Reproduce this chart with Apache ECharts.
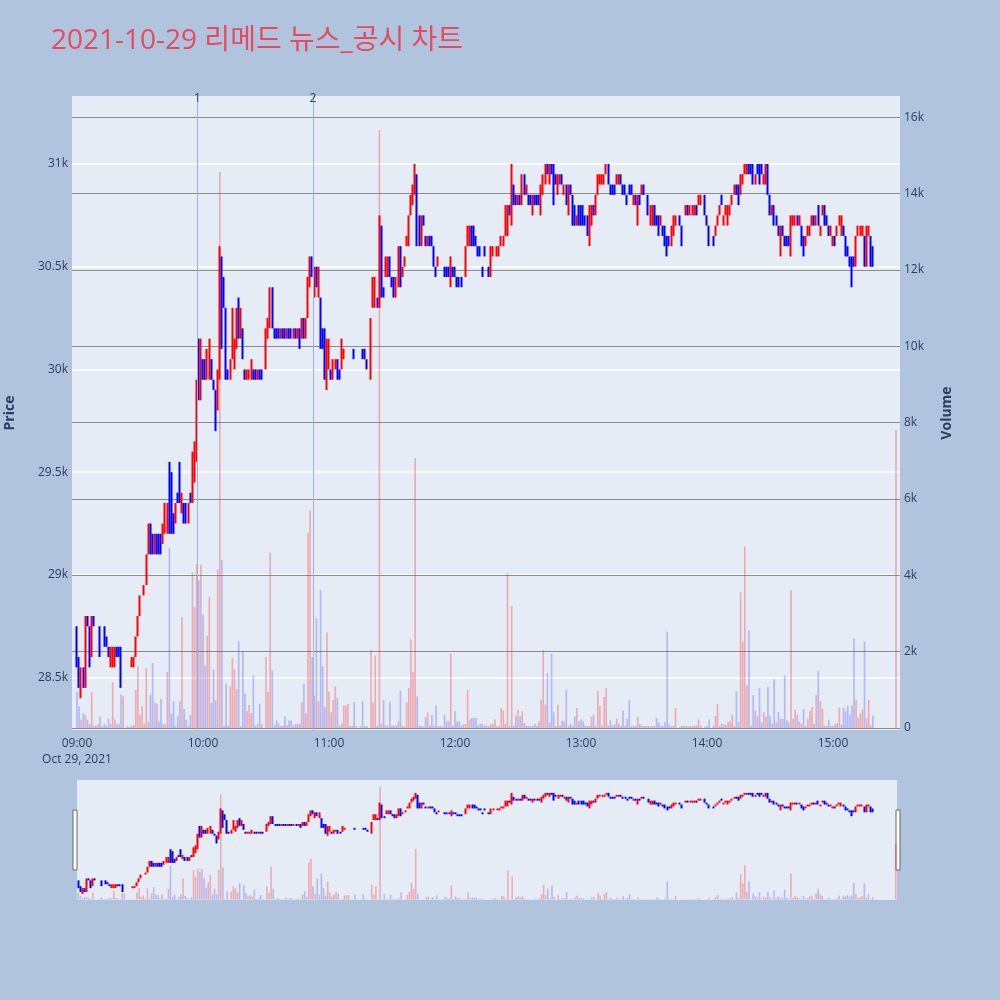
<!DOCTYPE html>
<html><head><meta charset="utf-8">
<script src="https://cdn.jsdelivr.net/npm/echarts@6/dist/echarts.min.js"></script>
<style>html,body{margin:0;padding:0;background:#B0C4DE;}#c{width:1000px;height:1000px;}</style>
</head><body><div id="c"></div>
<script>
// rows: [minute after 09:00, open, close, low, high, volume]
const session0900 = [
[0,28750,28600,28550,28750,960],[1,28600,28450,28450,28600,570],[2,28450,28550,28400,28550,220],[3,28550,28450,28450,28550,390],[4,28450,28800,28450,28800,350],[5,28800,28750,28750,28800,220],[6,28750,28550,28550,28750,100],[7,28600,28800,28600,28800,935],[8,28800,28750,28750,28800,60],[9,28750,28750,28750,28750,60],
[10,28750,28750,28750,28750,90],[11,28750,28600,28600,28750,300],[12,28750,28750,28750,28750,50],[13,28750,28650,28650,28750,110],[14,28700,28650,28650,28700,60],[15,28650,28600,28600,28650,240],[16,28550,28650,28550,28650,110],[17,28600,28650,28550,28650,1200],[18,28550,28650,28550,28650,220],[19,28650,28600,28600,28650,110],
[20,28650,28600,28600,28650,100],[21,28650,28450,28450,28650,870],[22,28600,28600,28600,28600,830],[24,28500,28500,28500,28500,50],[25,28500,28500,28500,28500,30],[26,28550,28600,28550,28600,60],[27,28550,28600,28550,28600,80],[28,28600,28700,28600,28700,1000],[29,28700,28800,28700,28800,1620],
[30,28800,28900,28800,28900,350],[31,28900,28900,28900,28900,570],[32,28900,28950,28900,28950,110],[33,28950,29100,28950,29100,1570],[34,29100,29250,29100,29250,150],[35,29200,29100,29100,29250,870],[36,29200,29100,29100,29200,1700],[37,29100,29200,29100,29200,670],[38,29200,29100,29100,29200,640],[39,29200,29100,29100,29200,175],
[40,29200,29100,29100,29200,760],[41,29150,29250,29150,29250,110],[42,29200,29350,29200,29350,90],[43,29250,29350,29200,29350,1470],[44,29550,29200,29200,29550,4720],[45,29500,29200,29200,29500,375],[46,29300,29250,29200,29300,700],[47,29250,29350,29250,29350,60],[48,29400,29350,29350,29400,320],[49,29400,29350,29350,29550,700],
[50,29300,29400,29300,29400,2910],[51,29350,29250,29250,29350,500],[52,29300,29250,29250,29350,220],[53,29250,29350,29250,29350,60],[54,29400,29350,29350,29400,350],[55,29350,29600,29350,29600,4080],[56,29500,29650,29450,29650,3170],[57,29550,29950,29550,29950,4300],[58,30050,29850,29850,30150,3870],[59,29850,30150,29850,30150,4280],
[60,30050,29950,29950,30050,2970],[61,30050,29950,29950,30050,1630],[62,29950,30100,29950,30100,2420],[63,29950,30150,29950,30150,3430],[64,30050,29950,29950,30050,655],[65,29950,29900,29900,29950,1530],[66,29900,29700,29700,29900,725],[67,29800,30000,29800,30000,4150],[68,29950,30500,29950,30600,14570],[69,30500,30100,30100,30550,4400]
];
const session1010 = [
[70,30450,30300,30300,30450,50],[71,30300,29950,29950,30300,1160],[72,30000,29950,29950,30000,60],[73,29950,30050,29950,30050,1090],[74,30050,30300,30050,30300,1840],[75,30050,30150,30000,30150,1530],[76,30100,30300,30100,30300,1020],[77,30350,30150,30150,30350,2270],[78,30150,30250,30150,30300,50],[79,30200,30050,30050,30200,2010],
[80,30000,29950,29950,30000,900],[81,29950,30000,29950,30000,437],[82,29950,30000,29950,30000,610],[83,29950,30050,29950,30050,390],[84,30000,29950,29950,30000,1380],[85,30000,29950,29950,30000,60],[86,29950,30000,29950,30000,110],[87,30000,29950,29950,30000,640],[88,30000,29950,29950,30000,100],
[90,30000,30200,30000,30200,1860],[91,30200,30250,30150,30250,935],[92,30200,30400,30200,30400,4600],[93,30400,30200,30200,30400,1500],[94,30200,30150,30150,30200,60],[95,30200,30150,30150,30200,200],[96,30200,30150,30150,30200,120],[97,30150,30200,30150,30200,50],[98,30200,30150,30150,30200,60],[99,30200,30150,30150,30200,300],
[100,30150,30200,30150,30200,80],[101,30200,30150,30150,30200,200],[102,30200,30150,30150,30200,200],[103,30150,30200,30150,30200,60],[104,30200,30150,30150,30200,100],[105,30150,30200,30150,30200,110],[106,30200,30150,30100,30200,110],[107,30150,30250,30150,30250,670],[108,30250,30150,30150,30250,1160],[109,30150,30250,30150,30250,390],
[110,30250,30450,30250,30450,5110],[111,30400,30550,30400,30550,5690],[112,30550,30450,30450,30550,1860],[113,30350,30500,30350,30500,850],[114,30500,30400,30400,30500,2880],[115,30350,30500,30350,30500,700],[116,30350,30100,30100,30350,3610],[117,30200,30100,30100,30200,1620],[118,30200,29950,29950,30200,550],[119,30000,30150,29900,30150,2510],
[120,30000,30150,30000,30150,960],[121,30000,29950,29950,30000,410],[122,29950,30050,29950,30050,740],[123,30000,30050,30000,30050,1090],[124,30050,30000,29950,30050,790],[125,30000,29950,29950,30000,60],[126,30000,30150,30000,30150,100],[127,30050,30100,30050,30100,590],[128,30150,30150,30150,30150,590],[129,30150,30150,30150,30150,630],
[130,30150,30150,30150,30150,50],[131,30150,30150,30150,30150,60],[132,30100,30050,30050,30100,680],[133,30050,30050,30050,30050,50],[135,30050,30050,30050,30050,50],[136,30100,30050,30050,30100,700],[137,30100,30050,30050,30100,60],[138,30050,30000,30000,30050,50]
];
const session1120 = [
[140,30000,30250,29950,30250,2050],[141,30300,30450,30300,30450,660],[142,30300,30350,30300,30450,1900],[143,30350,30300,30300,30350,60],[144,30300,30700,30300,30750,15670],[145,30700,30350,30350,30700,100],[146,30400,30350,30350,30400,740],[147,30450,30550,30450,30550,80],[148,30450,30550,30450,30550,60],[149,30550,30450,30450,30550,680],
[150,30450,30400,30400,30450,60],[151,30450,30350,30350,30450,60],[152,30350,30450,30350,30450,70],[153,30400,30600,30400,30600,180],[154,30600,30400,30400,30600,980],[155,30450,30500,30450,30500,60],[156,30500,30550,30500,30550,40],[157,30600,30650,30600,30650,670],[158,30600,30750,30600,30750,1050],[159,30750,30850,30750,30850,2320],
[160,30800,30900,30800,30900,1470],[161,30850,31000,30850,31000,7070],[162,30950,30600,30600,30950,830],[163,30750,30600,30600,30750,60],[164,30600,30750,30600,30750,50],[165,30750,30700,30700,30750,40],[166,30650,30600,30600,30650,290],[167,30600,30650,30600,30650,410],[168,30650,30600,30600,30650,60],[169,30650,30600,30600,30650,350],
[170,30600,30500,30500,30600,60],[171,30500,30450,30450,30500,585],[172,30500,30550,30500,30550,50],[173,30500,30500,30500,30500,60],[174,30500,30500,30500,30500,40],[175,30500,30450,30450,30500,350],[176,30500,30450,30450,30500,175],[177,30500,30450,30450,30500,175],[178,30400,30550,30400,30550,1950],[179,30500,30450,30450,30500,60],
[180,30500,30450,30450,30500,437],[181,30450,30400,30400,30450,175],[182,30450,30400,30400,30450,175],[183,30450,30400,30400,30450,60],[184,30400,30400,30400,30400,100],[185,30450,30600,30450,30600,100],[186,30600,30650,30600,30700,1000],[187,30600,30700,30600,30700,220],[188,30700,30600,30600,30700,260],[189,30700,30600,30600,30700,260],
[190,30650,30600,30600,30650,260],[191,30600,30550,30550,30600,60],[192,30600,30550,30550,30600,110],[193,30500,30450,30450,30500,110],[194,30600,30550,30550,30600,60],[195,30550,30550,30550,30550,60],[196,30500,30450,30450,30500,50],[197,30450,30600,30450,30600,110],[198,30550,30600,30550,30600,110],[199,30600,30600,30600,30600,220],
[200,30550,30600,30550,30600,50],[201,30550,30600,30550,30600,50],[202,30600,30650,30600,30650,525],[203,30600,30650,30600,30650,460],[204,30650,30800,30650,30800,110],[205,30650,30800,30650,30800,4050],[206,30800,30750,30750,30800,60],[207,30750,30950,30700,31000,3190],[208,30900,30800,30800,30900,60],[209,30850,30800,30800,30850,320],
[210,30800,30850,30800,30850,480],[211,30850,30800,30800,30850,300],[212,30800,30950,30800,30950,437],[213,30950,30850,30850,30950,130],[214,30850,30900,30850,30900,60],[215,30850,30800,30800,30850,60],[216,30850,30800,30800,30850,50],[217,30750,30850,30750,30850,60],[218,30850,30800,30800,30850,110],[219,30850,30800,30800,30850,50],
[220,30850,30800,30800,30850,175],[221,30750,30900,30750,30900,740],[222,30850,30950,30850,30950,2040],[223,30900,31000,30900,31000,610],[224,31000,30950,30950,31000,1440],[225,30900,31000,30900,31000,150],[226,31000,30950,30950,31000,1950],[227,31000,30900,30800,31000,410],[228,30950,30900,30900,30950,50],[229,30850,30950,30850,30950,610],
[230,30900,30950,30900,30950,60],[231,30950,30900,30900,30950,200],[232,30850,30900,30850,30900,175],[233,30900,30800,30800,30900,1000],[234,30800,30900,30750,30900,50],[235,30900,30850,30850,30900,110],[236,30850,30700,30700,30850,50],[237,30800,30700,30700,30800,300],[238,30700,30750,30700,30750,525],[239,30800,30700,30700,30800,175]
];
const session1300 = [
[240,30800,30700,30700,30800,220],[241,30800,30700,30700,30800,175],[242,30750,30700,30700,30750,60],[243,30750,30650,30650,30750,50],[244,30650,30800,30600,30800,60],[245,30700,30800,30700,30800,300],[246,30800,30750,30750,30800,350],[247,30750,30850,30750,30850,50],[248,30850,30950,30850,30950,980],[249,30900,30950,30900,30950,585],
[250,30900,30950,30900,30950,60],[251,30900,30950,30900,30950,810],[252,30950,31000,30950,31000,1050],[253,31000,30900,30900,31000,60],[254,30900,30850,30850,30900,200],[255,30900,30850,30850,30900,60],[256,30900,30850,30850,30900,100],[257,30900,30950,30900,30950,245],[258,30900,30950,30900,30950,110],[259,30950,30900,30900,30950,60],
[260,30900,30850,30850,30900,460],[261,30900,30850,30850,30900,60],[262,30850,30800,30800,30850,240],[263,30900,30850,30850,30900,740],[264,30900,30850,30850,30900,50],[265,30800,30850,30800,30850,60],[266,30850,30800,30800,30850,60],[267,30800,30850,30700,30850,290],[268,30850,30800,30800,30850,110],[269,30850,30900,30850,30900,60],
[270,30900,30850,30850,30900,50],[271,30850,30850,30850,30850,50],[272,30850,30750,30750,30850,50],[273,30700,30800,30700,30800,50],[274,30700,30800,30700,30800,50],[275,30800,30700,30700,30800,50],[276,30750,30700,30700,30750,260],[277,30750,30650,30650,30750,150],[278,30700,30750,30700,30750,60],[279,30700,30650,30650,30700,50],
[280,30700,30600,30600,30700,150],[281,30650,30600,30550,30650,2530],[282,30650,30600,30600,30650,90],[283,30600,30700,30600,30700,50],[284,30650,30750,30650,30750,50],[285,30700,30750,30700,30750,525],[287,30750,30700,30700,30750,30],[288,30700,30650,30600,30700,60],[289,30700,30700,30700,30700,50],
[290,30750,30800,30750,30800,50],[291,30800,30750,30750,30800,40],[292,30750,30800,30750,30800,50],[293,30750,30800,30750,30800,50],[294,30750,30800,30750,30800,60],[295,30800,30750,30750,30800,60],[296,30800,30850,30800,30850,220],[297,30800,30850,30800,30850,60],[299,30850,30750,30750,30850,30]
];
const session1400 = [
[300,30750,30700,30700,30750,50],[301,30700,30600,30600,30700,220],[303,30650,30600,30600,30650,50],[304,30650,30700,30650,30700,320],[305,30700,30750,30700,30750,630],[306,30750,30800,30750,30800,60],[307,30850,30800,30800,30850,110],[308,30700,30750,30700,30750,100],[309,30750,30800,30750,30800,80],
[310,30700,30800,30700,30800,150],[311,30750,30800,30750,30800,175],[312,30800,30850,30800,30850,350],[313,30850,30900,30850,30900,50],[314,30900,30850,30850,30900,960],[315,30900,30800,30800,30900,160],[316,30850,30950,30850,30950,3560],[317,30900,30950,30900,30950,2270],[318,30950,31000,30950,31000,4750],[319,30950,31000,30950,31000,1120],
[320,31000,30950,30950,31000,2560],[321,31000,30950,30950,31000,50],[322,31000,30900,30900,31000,860],[323,30900,30950,30900,30950,460],[324,31000,30950,30950,31000,300],[325,31000,30900,30900,31000,1050],[326,31000,30950,30950,31000,150],[327,30900,30950,30900,30950,410],[328,30900,31000,30900,31000,300],[329,31000,30850,30850,31000,1070],
[330,30850,30750,30750,30850,320],[331,30750,30800,30750,30800,110],[332,30800,30700,30700,30800,1280],[333,30750,30700,30700,30750,150],[334,30700,30650,30650,30700,420],[335,30600,30700,30550,30700,240],[336,30700,30650,30650,30700,240],[337,30650,30600,30600,30650,1370],[338,30650,30600,30600,30650,200],[339,30650,30600,30600,30650,150],
[340,30550,30750,30550,30750,3610],[341,30700,30750,30700,30750,240],[342,30700,30750,30700,30750,480],[343,30750,30700,30700,30750,350],[344,30700,30750,30700,30750,175],[345,30700,30600,30600,30700,110],[346,30650,30550,30550,30650,500],[347,30600,30650,30600,30650,50],[348,30650,30700,30650,30700,240],[349,30650,30700,30650,30700,437],
[350,30700,30750,30700,30750,550],[351,30750,30700,30700,30750,110],[352,30700,30750,30700,30750,860],[353,30800,30700,30700,30800,1490],[354,30650,30700,30650,30700,700],[355,30750,30800,30750,30800,500],[356,30800,30700,30700,30800,60],[357,30750,30700,30700,30750,50],[358,30700,30650,30650,30700,220],[359,30650,30700,30650,30700,60],
[360,30600,30650,30600,30650,60],[361,30650,30600,30600,30650,110],[362,30650,30700,30650,30700,130],[363,30700,30750,30700,30750,540],[364,30650,30750,30650,30750,80],[365,30700,30650,30650,30700,540],[366,30650,30550,30550,30650,437],[367,30600,30550,30550,30600,585],[368,30550,30500,30500,30550,350],[369,30550,30450,30400,30550,585],
[370,30550,30500,30500,30550,2340],[371,30500,30650,30500,30650,740],[372,30650,30700,30650,30700,260],[373,30650,30700,30650,30700,380],[374,30650,30700,30650,30700,480],[375,30650,30500,30500,30650,2270],[376,30500,30700,30500,30700,250],[377,30650,30700,30650,30700,740],[378,30650,30500,30500,30650,60],[379,30600,30500,30500,30600,330]
];
const closingAuction = [[390,30750,30750,30750,30750,7800]];

const newsMinutes = [57.4, 112.3];
const newsLabels = ['1', '2'];
const timeTicks = [0, 60, 120, 180, 240, 300, 360];
const timeLabels = ['09:00\nOct 29, 2021', '10:00', '11:00', '12:00', '13:00', '14:00', '15:00'];
const priceTicks = [28500, 29000, 29500, 30000, 30500, 31000];
const priceLabels = ['28.5k', '29k', '29.5k', '30k', '30.5k', '31k'];
const volumeTicks = [0, 2000, 4000, 6000, 8000, 10000, 12000, 14000, 16000];
const volumeLabels = ['0', '2k', '4k', '6k', '8k', '10k', '12k', '14k', '16k'];
const titleText = '2021-10-29 리메드 뉴스_공시 차트';

const rows = [].concat(session0900, session1010, session1120, session1300, session1400, closingAuction);
const candleData = rows.map(r => [r[0], r[1], r[2], r[3], r[4]]);
const VOL_UP = 'rgba(255,0,0,0.27)', VOL_DN = 'rgba(0,0,255,0.22)';
const volData = rows.map((r, i) => {
  const prev = i > 0 ? rows[i - 1][2] : r[2];
  const up = r[2] > r[1] || (r[2] === r[1] && prev <= r[2]);
  return { value: [r[0], r[5]], itemStyle: { color: up ? VOL_UP : VOL_DN } };
});

const FONT = '"Open Sans", "Noto Sans CJK KR", sans-serif';
const TXT = '#2a3f5f';
const candleStyle = { color: '#ff0000', color0: '#0000ff', borderColor: '#ff0000', borderColor0: '#0000ff', borderWidth: 2 };

const chart = echarts.init(document.getElementById('c'), null, { renderer: 'canvas' });
chart.setOption({
  animation: false,
  backgroundColor: '#B0C4DE',
  textStyle: { fontFamily: FONT },
  title: { text: titleText, left: 46, top: 22, textStyle: { fontSize: 28, color: '#e8495f', fontWeight: 'normal', fontFamily: FONT } },
  grid: [
    { left: 72, right: 100, top: 96, height: 634, show: true, backgroundColor: '#E5ECF6', borderWidth: 0, containLabel: false, outerBoundsMode: 'none' },
    { left: 77, right: 103, top: 780, height: 120, show: true, backgroundColor: '#E5ECF6', borderWidth: 0, containLabel: false, outerBoundsMode: 'none' }
  ],
  xAxis: [
    { type: 'value', gridIndex: 0, min: -2.38, max: 391.9, axisLine: { show: false }, splitLine: { show: false },
      axisTick: { show: false, customValues: timeTicks },
      axisLabel: { customValues: timeTicks, color: TXT, fontSize: 12, margin: 6, lineHeight: 16, fontFamily: FONT,
        formatter: v => timeLabels[timeTicks.indexOf(v)] } },
    { type: 'value', gridIndex: 1, min: -0.6, max: 390.6, show: false }
  ],
  yAxis: [
    { type: 'value', gridIndex: 0, min: 28245, max: 31331, position: 'left',
      name: 'Price', nameLocation: 'middle', nameGap: 55, nameRotate: 90,
      nameTextStyle: { color: TXT, fontSize: 14, fontWeight: 'bold', fontFamily: FONT },
      axisLine: { show: false }, axisTick: { show: false, customValues: priceTicks },
      axisLabel: { customValues: priceTicks, color: TXT, fontSize: 12, margin: 4, fontFamily: FONT,
        formatter: v => priceLabels[priceTicks.indexOf(v)] },
      splitLine: { show: true, lineStyle: { color: '#ffffff', width: 1.5 } } },
    { type: 'value', gridIndex: 0, min: -52, max: 16560, position: 'right',
      name: 'Volume', nameLocation: 'middle', nameGap: 40, nameRotate: 90,
      nameTextStyle: { color: TXT, fontSize: 14, fontWeight: 'bold', fontFamily: FONT },
      axisLine: { show: false }, axisTick: { show: false, customValues: volumeTicks },
      axisLabel: { customValues: volumeTicks, color: TXT, fontSize: 12, margin: 4, fontFamily: FONT,
        formatter: v => volumeLabels[volumeTicks.indexOf(v)] },
      splitLine: { show: true, lineStyle: { color: '#8c8c8c', width: 1 } } },
    { type: 'value', gridIndex: 1, min: 28245, max: 31331, show: false, splitLine: { show: false } },
    { type: 'value', gridIndex: 1, min: -52, max: 16560, show: false, splitLine: { show: false } }
  ],
  series: [
    { type: 'candlestick', xAxisIndex: 0, yAxisIndex: 0, data: candleData, encode: { x: 0, y: [1, 2, 3, 4] },
      barWidth: 1, itemStyle: candleStyle, silent: true,
      markLine: { silent: true, symbol: 'none', animation: false,
        lineStyle: { color: '#9fafe8', width: 1, type: 'solid', opacity: 1 },
        emphasis: { disabled: true },
        label: { show: true, position: 'end', distance: -9, color: TXT, fontSize: 12, fontFamily: FONT,
          formatter: p => newsLabels[p.dataIndex] },
        data: newsMinutes.map(m => ({ xAxis: m })) } },
    { type: 'bar', xAxisIndex: 0, yAxisIndex: 1, data: volData, barWidth: 1.7, z: 3, silent: true },
    { type: 'candlestick', xAxisIndex: 1, yAxisIndex: 2, data: candleData, encode: { x: 0, y: [1, 2, 3, 4] },
      barWidth: 1, itemStyle: candleStyle, silent: true },
    { type: 'bar', xAxisIndex: 1, yAxisIndex: 3, data: volData, barWidth: 1.6, z: 3, silent: true }
  ],
  graphic: [
    { type: 'rect', shape: { x: 73, y: 810, width: 4, height: 60 }, style: { fill: '#ffffff', stroke: '#666666', lineWidth: 1 } },
    { type: 'rect', shape: { x: 896, y: 810, width: 4, height: 60 }, style: { fill: '#ffffff', stroke: '#666666', lineWidth: 1 } }
  ]
});
</script>
</body></html>
